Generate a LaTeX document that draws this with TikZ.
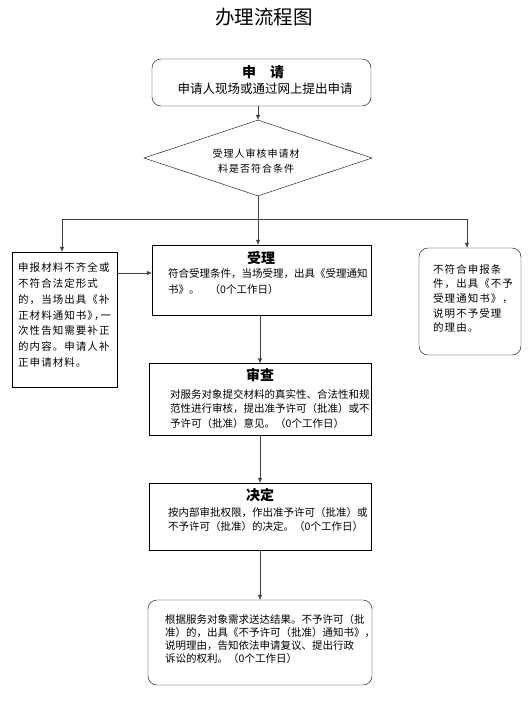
\documentclass[tikz,border=0pt]{standalone}
\usepackage{fontspec}
\setmainfont{Noto Sans CJK SC}
\newfontfamily\spaced[LetterSpace=10]{Noto Sans CJK SC}
\usetikzlibrary{shapes.geometric,arrows.meta}

\begin{document}
\begin{tikzpicture}[x=1pt,y=-1pt,
  box/.style={draw,inner sep=0pt},
  rbox/.style={draw,rounded corners=9pt,inner sep=0pt},
  txt/.style={inner sep=0pt,align=left,anchor=west},
  head/.style={inner sep=0pt,font=\fontsize{14}{14}\selectfont\bfseries},
  link/.style={draw=black!75,-{Latex[length=5pt,width=4.5pt]}}]
\useasboundingbox (0,0) rectangle (529,702);
\draw (264,17) node[inner sep=0pt,font=\fontsize{19.5}{19.5}\selectfont](title) {办理流程图};
% boxes
\draw (261.5,82.5) node[rbox,minimum width=219pt,minimum height=47pt](apply) {};
\draw (258,158) node[draw,diamond,inner sep=0pt,minimum width=228pt,minimum height=76pt](check) {};
\draw (64.5,319.5) node[box,minimum width=105pt,minimum height=135pt](supply) {};
\draw (261.5,280) node[box,minimum width=219pt,minimum height=70pt](accept) {};
\draw (470,301.5) node[rbox,minimum width=102pt,minimum height=107pt](reject) {};
\draw (260,399.5) node[box,minimum width=222pt,minimum height=72pt](review) {};
\draw (260,516.5) node[box,minimum width=222pt,minimum height=67pt](decide) {};
\draw (260,642.5) node[rbox,minimum width=224pt,minimum height=85pt](deliver) {};
% texts
\draw (263,72) node[head](applyhead) {申\quad 请};
\draw (265,88.5) node[inner sep=0pt,font=\fontsize{12.5}{12.5}\selectfont](applytxt) {申请人现场或通过网上提出申请};
\draw (256,161.5) node[inner sep=0pt,align=center,font=\fontsize{10}{15}\selectfont\spaced](checktxt) {受理人审核申请材\\料是否符合条件};
\draw (18,315) node[txt,font=\fontsize{10.5}{15.7}\selectfont\spaced](supplytxt) {申报材料不齐全或\\不符合法定形式\\的，当场出具《补\\正材料通知书》\kern-4pt，\kern-4pt一\\次性告知需要补正\\的内容。申请人补\\正申请材料。};
\draw (261,258) node[head](accepthead) {受理};
\draw (168,282) node[txt,font=\fontsize{10.5}{16}\selectfont](accepttxt) {符合受理条件，当场受理，出具《受理通知\\书》。\hspace{10pt}（0个工作日）};
\draw (433,298.5) node[txt,font=\fontsize{10.5}{14.7}\selectfont\spaced](rejecttxt) {不符合申报条\\件，出具《不予\\受理通知书》，\\说明不予受理\\的理由。};
\draw (260,375) node[head](reviewhead) {审查};
\draw (170,409) node[txt,font=\fontsize{10.5}{14.5}\selectfont](reviewtxt) {对服务对象提交材料的真实性、合法性和规\\范性进行审核，提出准予许可（批准）或不\\予许可（批准）意见。（0个工作日）};
\draw (260,495) node[head](decidehead) {决定};
\draw (168,520) node[txt,font=\fontsize{10.5}{14}\selectfont](decidetxt) {按内部审批权限，作出准予许可（批准）或\\不予许可（批准）的决定。（0个工作日）};
\draw (165,639) node[txt,font=\fontsize{10.5}{12.7}\selectfont](delivertxt) {根据服务对象需求送达结果。不予许可（批\\准）的，出具《不予许可（批准）通知书》，\\说明理由，告知依法申请复议、提出行政\\诉讼的权利。（0个工作日）};
% connectors
\coordinate (fork) at (259,219);
\coordinate (accin) at ([yshift=7pt]accept.west);
\draw[link] (apply.south -| check.north) -- (check.north);
\draw[link] (check.south) -- (accept.north -| check.south);
\draw[link] (fork) -| ([xshift=-2.5pt]supply.north);
\draw[link] (fork) -| ([xshift=-3pt]reject.north);
\draw[link] (supply.east |- accin) -- (accin);
\draw[link] (accept.south -| review.north) -- (review.north);
\draw[link] (review.south) -- (decide.north);
\draw[link] (decide.south) -- (deliver.north);
\end{tikzpicture}
\end{document}
